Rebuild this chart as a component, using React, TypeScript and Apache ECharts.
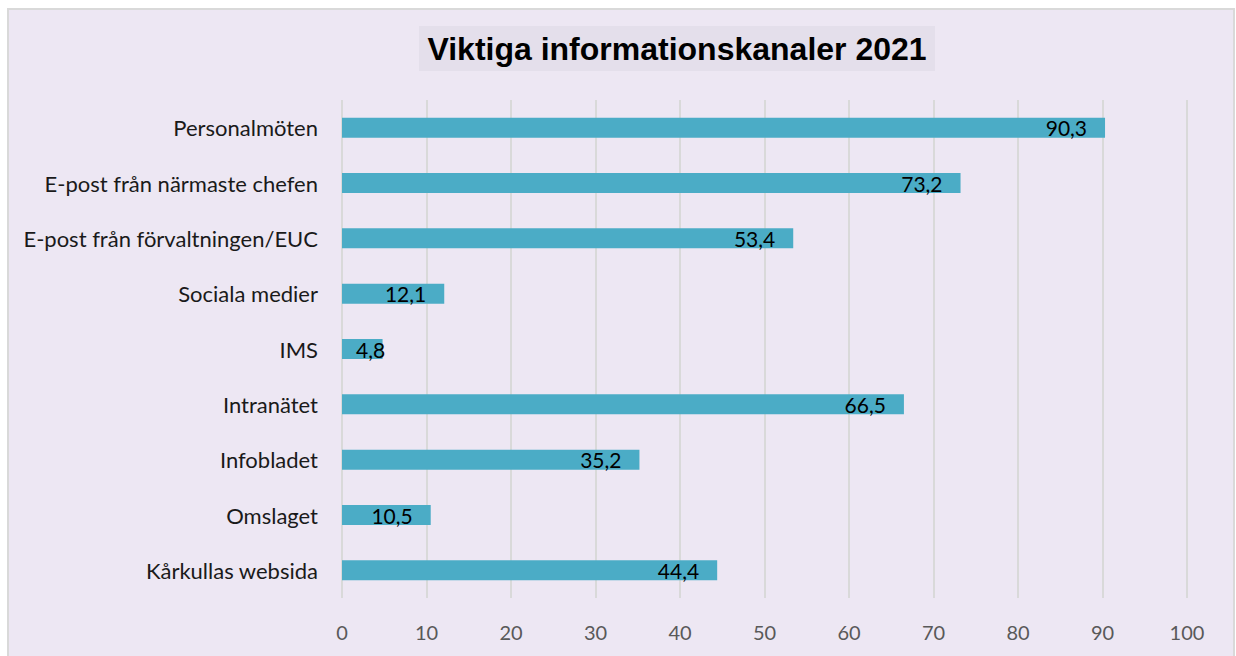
import React, { useEffect, useRef } from "react";
import * as echarts from "echarts";

const titleText = "Viktiga informationskanaler 2021";
const categories = [
  "Personalmöten",
  "E-post från närmaste chefen",
  "E-post från förvaltningen/EUC",
  "Sociala medier",
  "IMS",
  "Intranätet",
  "Infobladet",
  "Omslaget",
  "Kårkullas websida",
];
const values = [90.3, 73.2, 53.4, 12.1, 4.8, 66.5, 35.2, 10.5, 44.4];
const axisMin = 0;
const axisMax = 100;
const axisStep = 10;

const labelFont = "Lato, 'Open Sans', sans-serif";

export default function App() {
  const ref = useRef<HTMLDivElement>(null);
  useEffect(() => {
    if (!ref.current) return;
    const chart = echarts.init(ref.current, null, { renderer: "svg" });
    const fmt = (v: number) => v.toFixed(1).replace(".", ",");
    chart.setOption({
      animation: false,
      backgroundColor: "#ffffff",
      graphic: [
        {
          type: "rect",
          shape: { x: 8, y: 9, width: 1226, height: 660 },
          style: { fill: "#EDE7F3", stroke: "#D9D9D9", lineWidth: 2 },
          silent: true,
          z: -10,
        },
        {
          type: "rect",
          shape: { x: 419, y: 26, width: 516, height: 45 },
          style: { fill: "#E4DFEB" },
          silent: true,
          z: -5,
        },
        {
          type: "text",
          x: 677,
          y: 49,
          style: {
            text: titleText,
            fill: "#000000",
            font: "bold 32px 'Liberation Sans', Arial, sans-serif",
            align: "center",
            verticalAlign: "middle",
          },
          silent: true,
        },
      ],
      grid: { left: 342, right: 49, top: 100, bottom: 58, containLabel: false },
      xAxis: {
        type: "value",
        min: axisMin,
        max: axisMax,
        interval: axisStep,
        axisLine: { show: false },
        axisTick: { show: false },
        axisLabel: {
          color: "#595959",
          fontSize: 20,
          fontFamily: labelFont,
          margin: 24,
        },
        splitLine: { show: true, lineStyle: { color: "#D9D9D9", width: 2 } },
      },
      yAxis: {
        type: "category",
        data: categories,
        inverse: true,
        axisLine: { show: false },
        axisTick: { show: false },
        axisLabel: {
          color: "#1a1a1a",
          fontSize: 22,
          fontFamily: labelFont,
          margin: 24,
        },
      },
      series: [
        {
          type: "bar",
          data: values.map((v) =>
            v < 8
              ? { value: v, label: { position: "insideLeft", distance: 14 } }
              : v
          ),
          barWidth: 20,
          itemStyle: { color: "#4BACC6" },
          label: {
            show: true,
            position: "insideRight",
            distance: 18,
            color: "#000000",
            fontSize: 21,
            fontFamily: labelFont,
            formatter: (p: any) => fmt(p.value),
          },
        },
      ],
    });
    return () => chart.dispose();
  }, []);
  return (
    <div
      ref={ref}
      style={{ position: "absolute", left: 0, top: 0, width: 1236, height: 656 }}
    />
  );
}
